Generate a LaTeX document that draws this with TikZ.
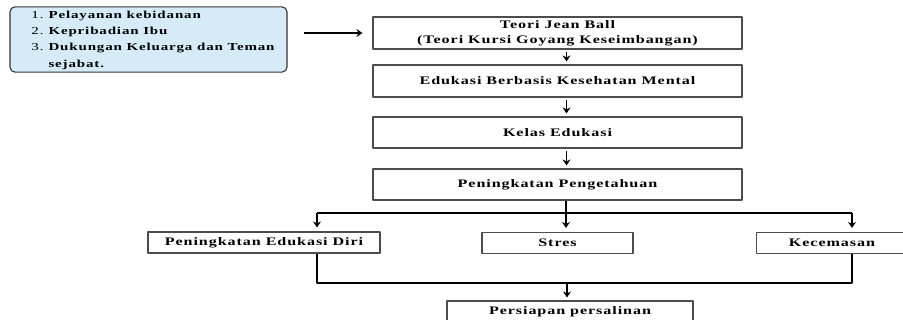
\documentclass[tikz,border=0pt]{standalone}
\usepackage{fontspec}
\setmainfont{Liberation Serif}[FakeStretch=1.4,LetterSpace=8]
\usetikzlibrary{arrows.meta}
\definecolor{factfill}{HTML}{D5EBF8}
\begin{document}
\begin{tikzpicture}[x=1pt, y=-1pt, font=\bfseries\fontsize{11.5}{14.8}\selectfont, line join=round, >={Stealth[length=6pt,width=8pt]},
	box/.style={draw=gray!60!black, line width=1.1pt, rectangle, inner sep=0pt, align=center},
	link/.style={line width=1.7pt},
	arr/.style={->, line width=1.7pt}]
	\useasboundingbox (0,0) rectangle (903,320);
	% faktor yang mempengaruhi
	\node[box, rounded corners=5pt, fill=factfill, draw=gray!40!black, minimum width=277pt, minimum height=63pt, font=\bfseries\fontsize{10.7}{13.6}\selectfont] (faktor) at (148.5,39.5)
		{\def\arraystretch{1.2}\begin{tabular}{@{\hspace{9pt}}r@{\hspace{5pt}}l@{}}
			{\mdseries 1.} & Pelayanan kebidanan\\
			{\mdseries 2.} & Kepribadian Ibu\\
			{\mdseries 3.} & Dukungan Keluarga dan Teman\\
			& sejabat.
		\end{tabular}};
	% alur utama
	\node[box, minimum width=369pt, minimum height=32pt] (teori) at (557.5,33) {Teori Jean Ball\\(Teori Kursi Goyang Keseimbangan)};
	\node[box, minimum width=369pt, minimum height=32pt] (mental) at (557.5,81) {Edukasi Berbasis Kesehatan Mental};
	\node[box, minimum width=369pt, minimum height=31pt] (kelas) at (557.5,132.5) {Kelas Edukasi};
	\node[box, minimum width=369pt, minimum height=31pt] (tahu) at (557.5,184.5) {Peningkatan Pengetahuan};
	% luaran
	\node[box, minimum width=232pt, minimum height=21pt] (diri) at (264,242.5) {Peningkatan Edukasi Diri};
	\node[box, minimum width=151pt, minimum height=21pt] (stres) at (557.5,243) {Stres};
	\node[box, minimum width=151pt, minimum height=21pt] (cemas) at (832,243) {Kecemasan};
	\node[box, minimum width=246pt, minimum height=21pt] (siap) at (570,311.5) {Persiapan persalinan};
	% titik cabang
	\coordinate (jl) at (317,213);
	\coordinate (jc) at (566,213);
	\coordinate (jr) at (852,213);
	\coordinate (ml) at (317,283);
	\coordinate (mc) at (567,283);
	\coordinate (mr) at (852,283);
	\draw[->, line width=1.3pt] ([xshift=16pt]faktor.east |- teori.west) -- ([xshift=-10pt]teori.west);
	\draw[arr] ([xshift=9pt,yshift=-2pt]teori.south) -- ([xshift=9pt,yshift=3pt]mental.north);
	\draw[arr] ([xshift=9pt,yshift=-2pt]mental.south) -- ([xshift=9pt,yshift=3pt]kelas.north);
	\draw[arr] ([xshift=9pt,yshift=-2pt]kelas.south) -- ([xshift=9pt,yshift=3pt]tahu.north);
	\draw[link] (tahu.south -| jc) -- (jc);
	\draw[link] (jl) -- (jr);
	\draw[arr] (jl) -- ([yshift=4pt]diri.north -| jl);
	\draw[arr] (jc) -- ([yshift=4pt]stres.north -| jc);
	\draw[arr] (jr) -- ([yshift=4pt]cemas.north -| jr);
	\draw[link] (diri.south -| ml) -- (ml) -- (mr) -- (cemas.south -| mr);
	\draw[arr] (mc) -- ([yshift=3pt]siap.north -| mc);
\end{tikzpicture}
\end{document}
